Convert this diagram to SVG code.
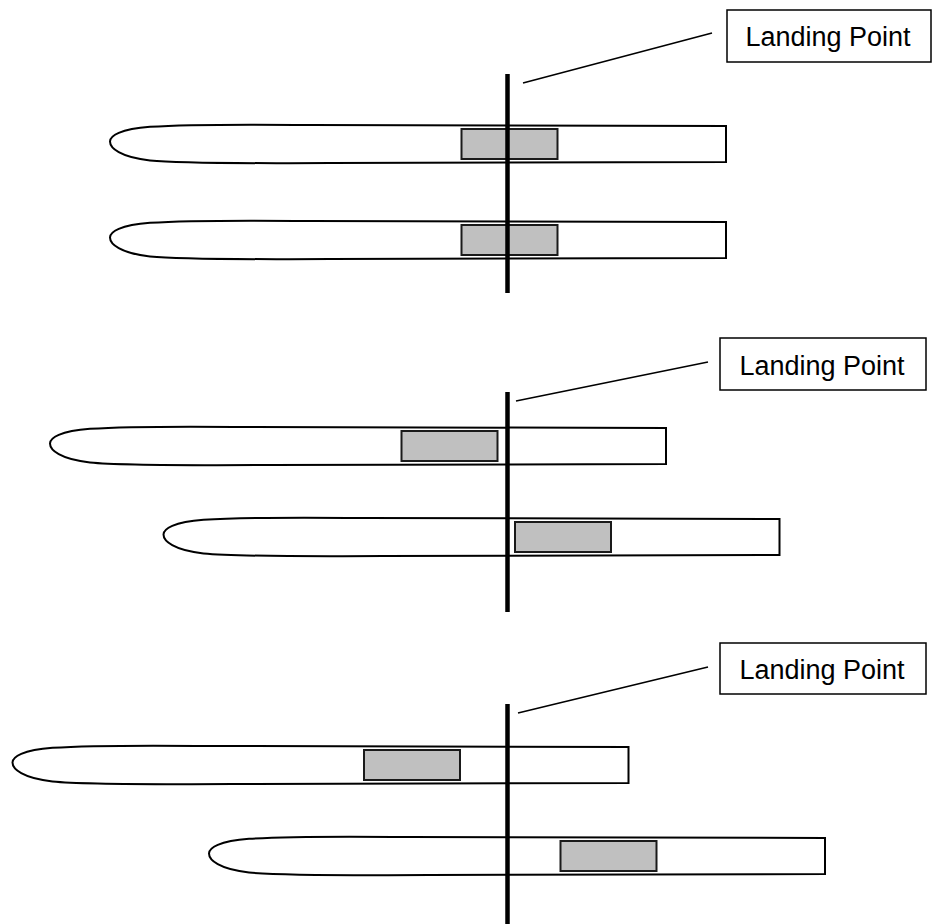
<svg xmlns="http://www.w3.org/2000/svg" xmlns:xlink="http://www.w3.org/1999/xlink" width="932" height="924" viewBox="0 0 932 924">
<style>
.blade{fill:#ffffff;stroke:#000000;stroke-width:2;stroke-linejoin:miter}
.pad{fill:#c0c0c0;stroke:#1a1a1a;stroke-width:2}
.axis{stroke:#000000;stroke-width:4.5;fill:none}
.leader{stroke:#000000;stroke-width:1.6;fill:none}
.lbox{fill:#ffffff;stroke:#000000;stroke-width:1.5}
.ltext{font-family:"Liberation Sans",Arial,sans-serif;font-size:27px;fill:#000000;text-anchor:middle}
</style>
<defs>
<g id="bladeShape">
<path class="blade" d="M 616,0 L 200,-1 C 120,-1.8 70,-1.2 40,0.8 C 10,3 0,10 0,15.5 C 0,22 10,31 40,34.5 C 70,37.5 130,37.5 220,37 L 616,36 Z"/>
<rect class="pad" x="351.5" y="3" width="96" height="30"/>
</g>
</defs>
<rect width="932" height="924" fill="#ffffff"/>
<g id="blade-1a"><use xlink:href="#bladeShape" transform="translate(110,126)"/></g>
<g id="blade-1b"><use xlink:href="#bladeShape" transform="translate(110,222)"/></g>
<g id="blade-2a"><use xlink:href="#bladeShape" transform="translate(50,428)"/></g>
<g id="blade-2b"><use xlink:href="#bladeShape" transform="translate(163.5,519)"/></g>
<g id="blade-3a"><use xlink:href="#bladeShape" transform="translate(12.5,747)"/></g>
<g id="blade-3b"><use xlink:href="#bladeShape" transform="translate(209,838)"/></g>
<g id="axes">
<line class="axis" x1="507.5" y1="74" x2="507.5" y2="293"/>
<line class="axis" x1="507.5" y1="392" x2="507.5" y2="612"/>
<line class="axis" x1="507.5" y1="704" x2="507.5" y2="924"/>
</g>
<g id="connectors">
<line class="leader" x1="523" y1="83" x2="712" y2="33"/>
<line class="leader" x1="516" y1="401" x2="708" y2="362"/>
<line class="leader" x1="518" y1="713" x2="708" y2="667"/>
</g>
<g id="label-1"><rect class="lbox" x="727" y="10" width="204" height="52"/><text class="ltext" x="828" y="46">Landing Point</text></g>
<g id="label-2"><rect class="lbox" x="720" y="338" width="206" height="52"/><text class="ltext" x="822" y="374.5">Landing Point</text></g>
<g id="label-3"><rect class="lbox" x="720" y="643" width="206" height="51"/><text class="ltext" x="822" y="678.5">Landing Point</text></g>
</svg>
